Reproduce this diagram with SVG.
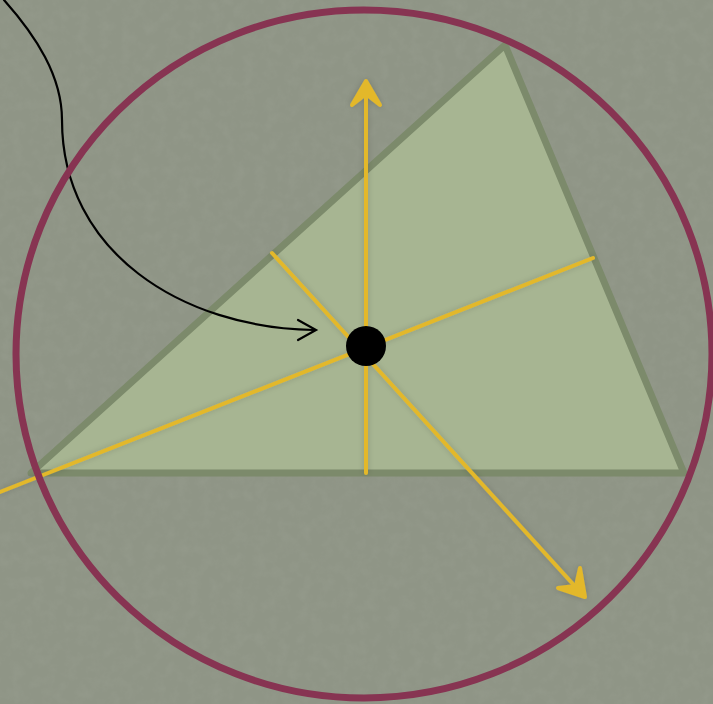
<svg xmlns="http://www.w3.org/2000/svg" width="713" height="704" viewBox="0 0 713 704">
  <style>
    .bg { fill: #8f9586; }
    .tri { fill: #a7b592; stroke: #7c8a6b; stroke-width: 7; stroke-linejoin: round; }
    .ray { fill: none; stroke: #e3b82c; stroke-width: 4; stroke-linecap: round; }
    .head { fill: #e3b82c; stroke: #e3b82c; stroke-width: 4; stroke-linecap: round; stroke-linejoin: round; }
    .ring { fill: none; stroke: #873452; stroke-width: 7; }
    .curve { fill: none; stroke: #000000; stroke-width: 2.2; stroke-linecap: round; }
  </style>
  <defs>
    <filter id="tex" x="0" y="0" width="100%" height="100%">
      <feTurbulence type="fractalNoise" baseFrequency="0.09" numOctaves="3" seed="4" result="n"/>
      <feColorMatrix in="n" type="matrix" values="0 0 0 0 0.5  0 0 0 0 0.52  0 0 0 0 0.46  0 0 0 0.9 -0.35"/>
    </filter>
    <filter id="glow" x="-10%" y="-10%" width="120%" height="120%">
      <feGaussianBlur in="SourceAlpha" stdDeviation="3"/>
      <feComponentTransfer><feFuncA type="linear" slope="0.18"/></feComponentTransfer>
      <feMerge><feMergeNode/><feMergeNode in="SourceGraphic"/></feMerge>
    </filter>
  </defs>
  <rect class="bg" x="0" y="0" width="713" height="704"/>
  <rect x="0" y="0" width="713" height="704" filter="url(#tex)" opacity="0.2"/>

  <g id="triangle">
    <polygon class="tri" points="31,473 505,45 684,473"/>
  </g>

  <g id="connectors">
    <g filter="url(#glow)">
      <line class="ray" x1="366" y1="473" x2="366" y2="84"/>
      <path class="head" d="M352,105 L366,81 L380,105 L366,94 Z"/>
      <line class="ray" x1="0" y1="492" x2="593" y2="258"/>
      <line class="ray" x1="272" y1="253" x2="582" y2="594"/>
      <path class="head" d="M580,568 L585,597 L558,588 L576,586 Z"/>
    </g>
    <path class="curve" d="M4,0 C36,36 62,76 62,120 C62,252 182,328 314,330"/>
    <path class="curve" d="M298,320 L316,330 L298,340"/>
  </g>

  <g id="circumcircle">
    <ellipse class="ring" cx="364" cy="354" rx="348" ry="344"/>
  </g>

  <g id="center-point">
    <circle cx="366" cy="346" r="20" fill="#000000"/>
  </g>
</svg>
